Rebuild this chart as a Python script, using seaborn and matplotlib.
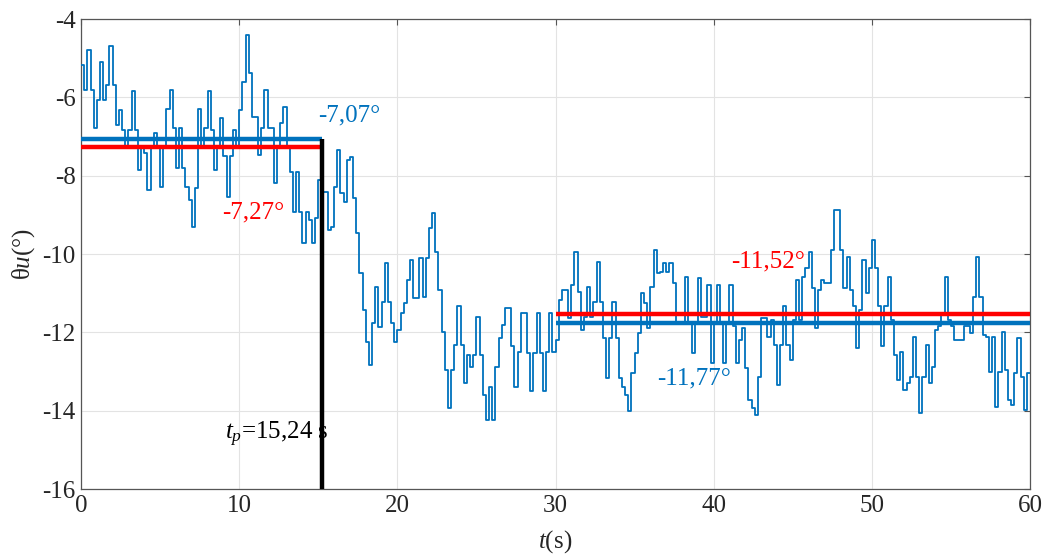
import numpy as np
import pandas as pd
import matplotlib
matplotlib.use("Agg")
import matplotlib.pyplot as plt
import seaborn as sns

# ---------------- data ----------------
sample_period = 0.2  # s
theta_0_10 = [-5.17, -5.81, -4.79, -5.81, -6.79, -6.07, -5.09, -6.07, -5.69, -4.69,
              -5.69, -6.71, -6.33, -6.83, -7.30, -6.83, -5.84, -6.83, -7.86, -7.30,
              -7.43, -8.37, -7.30, -6.92, -7.30, -8.28, -7.30, -6.31, -5.81, -6.79,
              -7.81, -6.79, -7.81, -8.28, -8.62, -9.30, -8.32, -6.31, -7.30, -6.79,
              -5.84, -6.83, -7.86, -7.30, -6.54, -7.51, -8.54, -7.51, -6.83, -7.30]
theta_10_20 = [-6.32, -5.60, -4.41, -5.39, -6.49, -6.49, -7.47, -6.79, -5.81, -6.79,
               -6.79, -8.19, -7.30, -6.66, -6.25, -7.30, -7.90, -8.92, -7.90, -8.92,
               -9.73, -8.92, -9.13, -9.73, -9.09, -8.11, -8.41, -8.41, -9.39, -9.30,
               -8.28, -7.34, -8.45, -8.66, -7.60, -7.52, -8.58, -9.47, -10.49, -11.43,
               -12.24, -12.83, -11.77, -10.83, -11.86, -11.22, -10.24, -11.22, -11.77, -12.24]
theta_20_30 = [-11.94, -11.51, -11.26, -10.66, -10.15, -11.13, -11.13, -10.11, -11.09, -10.11,
               -9.34, -8.96, -9.94, -10.92, -11.98, -12.96, -13.94, -12.96, -12.32, -11.34,
               -12.32, -13.30, -12.57, -12.88, -12.57, -11.60, -12.57, -13.60, -14.24, -13.39,
               -14.24, -12.88, -12.15, -11.81, -11.38, -11.38, -12.36, -13.39, -12.49, -11.51,
               -11.51, -12.53, -13.51, -12.53, -11.51, -12.53, -13.51, -12.49, -11.51, -12.49]
theta_30_40 = [-12.20, -11.17, -10.92, -10.92, -11.64, -10.79, -9.94, -10.96, -11.94, -11.60,
               -10.84, -11.60, -11.22, -10.20, -11.22, -12.15, -13.17, -12.15, -11.22, -12.15,
               -13.17, -13.39, -13.60, -14.02, -13.05, -12.53, -12.02, -11.00, -11.26, -11.90,
               -10.84, -9.90, -10.49, -10.45, -10.24, -10.45, -10.24, -10.75, -11.77, -11.77,
               -11.77, -10.58, -11.77, -12.53, -11.77, -10.62, -11.60, -11.60, -10.80, -12.79]
theta_40_50 = [-11.77, -10.79, -11.77, -12.79, -11.77, -10.79, -11.85, -12.79, -12.19, -11.89,
               -12.92, -13.73, -13.94, -14.11, -13.13, -11.64, -11.64, -12.11, -11.68, -12.32,
               -13.34, -12.32, -11.34, -12.32, -12.71, -11.68, -10.66, -11.68, -10.58, -10.37,
               -9.94, -10.87, -11.89, -10.92, -10.66, -10.75, -10.75, -9.90, -8.88, -8.88,
               -9.90, -10.87, -10.07, -10.92, -11.34, -12.41, -11.43, -10.15, -11.00, -10.37]
theta_50_60 = [-9.64, -10.37, -11.34, -12.36, -11.34, -10.58, -11.68, -12.58, -13.22, -12.49,
               -13.47, -13.30, -13.13, -12.11, -13.13, -14.07, -13.13, -12.32, -13.30, -12.88,
               -11.94, -11.85, -11.56, -10.58, -11.68, -11.85, -12.20, -12.20, -12.20, -11.85,
               -11.85, -12.02, -11.09, -10.07, -11.09, -12.07, -12.11, -13.00, -12.11, -13.90,
               -13.00, -11.98, -12.96, -13.73, -13.86, -13.05, -12.15, -13.13, -13.98, -13.05,
               -13.05]

seg_start = [0.0, 30.0]
seg_end = [15.24, 60.0]
mean_blue = [-7.07, -11.77]
mean_red = [-7.27, -11.52]
t_p = 15.24

label_blue = ["-7,07°", "-11,77°"]
label_red = ["-7,27°", "-11,52°"]
label_tp = r"$t_p$=15,24 s"

x_ticks = [0, 10, 20, 30, 40, 50, 60]
y_ticks = [-16, -14, -12, -10, -8, -6, -4]

# ---------------- style ----------------
sns.set_theme(style="white")
plt.rcParams["font.family"] = ["Liberation Serif", "DejaVu Serif"]
plt.rcParams["mathtext.fontset"] = "custom"
plt.rcParams["mathtext.rm"] = "Liberation Serif"
plt.rcParams["mathtext.it"] = "Liberation Serif:italic"
plt.rcParams["axes.unicode_minus"] = False

BLUE = "#0072BD"
RED = "#FF0000"

theta = np.concatenate([theta_0_10, theta_10_20, theta_20_30,
                        theta_30_40, theta_40_50, theta_50_60])
t = np.arange(len(theta)) * sample_period
df = pd.DataFrame({"t": t, "theta": theta})

fig = plt.figure(figsize=(10.44, 5.56), dpi=100)
ax = fig.add_axes([0.0776, 0.1205, 0.909, 0.8453])

sns.lineplot(data=df, x="t", y="theta", drawstyle="steps-post", color=BLUE,
             lw=1.3, estimator=None, ax=ax, zorder=3)

for s, e, mb, mr in zip(seg_start, seg_end, mean_blue, mean_red):
    ax.plot([s, e], [mr, mr], color=RED, lw=3.2, solid_capstyle="butt", zorder=4)
    ax.plot([s, e], [mb, mb], color=BLUE, lw=3.2, solid_capstyle="butt", zorder=4)

ax.plot([t_p, t_p], [mean_blue[0], -16], color="black", lw=3.2,
        solid_capstyle="butt", zorder=5)

fs = 18
ax.text(15.0, -6.45, label_blue[0], color=BLUE, fontsize=fs, ha="left", va="center")
ax.text(8.9, -8.93, label_red[0], color=RED, fontsize=fs, ha="left", va="center")
ax.text(41.1, -10.2, label_red[1], color=RED, fontsize=fs, ha="left", va="center")
ax.text(36.4, -13.17, label_blue[1], color=BLUE, fontsize=fs, ha="left", va="center")
ax.text(9.1, -14.6, label_tp, color="black", fontsize=fs, ha="left", va="center")

ax.set_xlim(0, 60)
ax.set_ylim(-16, -4)
ax.set_xticks(x_ticks)
ax.set_yticks(y_ticks)
ax.grid(True, color="#e3e3e3", lw=0.8)
ax.set_axisbelow(True)
for sp in ax.spines.values():
    sp.set_visible(True)
    sp.set_color("#555555")
    sp.set_linewidth(0.9)
ax.tick_params(direction="in", top=True, right=True, length=4, width=0.8,
               labelsize=fs, colors="#555555", labelcolor="#262626", pad=4)

ax.set_xlabel(r"$t$(s)", fontsize=fs, color="#262626", labelpad=8)
ax.set_ylabel(r"θ$u$(°)", fontsize=fs, color="#262626", labelpad=4)

fig.savefig("out.png", dpi=100)
